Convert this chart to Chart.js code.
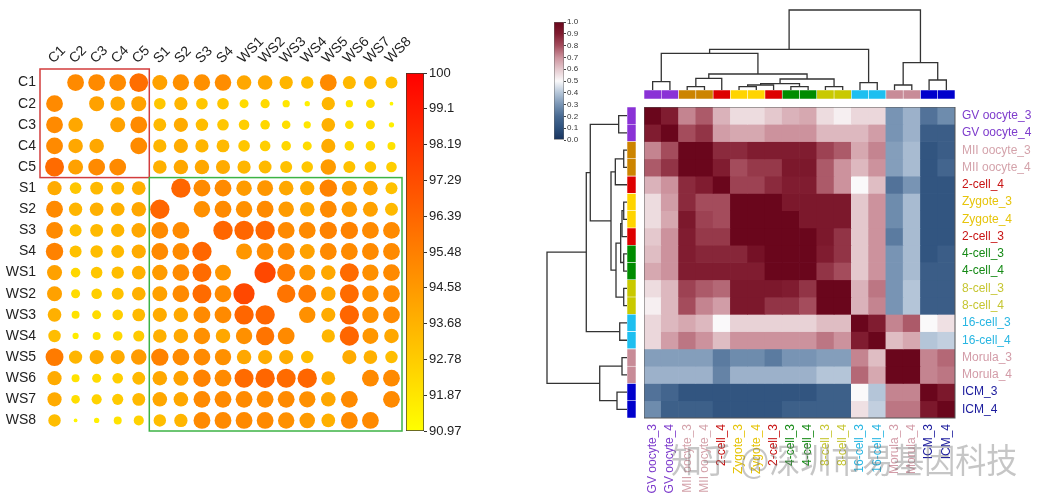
<!DOCTYPE html>
<html>
<head>
<meta charset="utf-8">
<script src="https://cdn.jsdelivr.net/npm/chart.js@4.4.1/dist/chart.umd.min.js"></script>
<style>
  html, body { margin: 0; padding: 0; background: #fff; }
  #wrap { position: relative; width: 1039px; height: 501px; overflow: hidden; background: #fff; }
  canvas { position: absolute; }
  #mark { position: absolute; left: 671px; top: 441px; font-family: "Noto Sans CJK SC", sans-serif;
          font-size: 31px; line-height: 31px; color: rgba(120,120,120,0.42); white-space: nowrap;
          transform: scaleY(1.1); transform-origin: left top; }
</style>
</head>
<body>
<div id="wrap">
  <canvas id="bubble" width="470" height="501" style="left:0;top:0"></canvas>
  <canvas id="bubbleBar" width="62" height="378" style="left:406px;top:63px"></canvas>
  <canvas id="heatBar" width="36" height="130" style="left:554px;top:16px"></canvas>
  <canvas id="topTree" width="311" height="82" style="left:644px;top:8px"></canvas>
  <canvas id="leftTree" width="82" height="311" style="left:545px;top:107px"></canvas>
  <canvas id="topStrip" width="311" height="9" style="left:644px;top:90px"></canvas>
  <canvas id="leftStrip" width="9" height="311" style="left:627px;top:107px"></canvas>
  <canvas id="heat" width="395" height="394" style="left:644px;top:107px"></canvas>
  <div id="mark">知乎 @深圳市易基因科技</div>
</div>
<script>
Chart.defaults.font.family = '"Liberation Sans", Arial, sans-serif';
Chart.defaults.animation = false;

// ---- left panel: correlation bubbles ----
const samples = ['C1','C2','C3','C4','C5','S1','S2','S3','S4','WS1','WS2','WS3','WS4','WS5','WS6','WS7','WS8'];
const corr = [
  [null,95.1,95.1,95.1,96.1,94.3,94.9,94.9,95.0,94.1,94.1,93.6,93.3,95.1,93.5,93.45,93.15],
  [95.1,null,94.3,94.1,94.3,93.0,93.6,93.0,93.0,92.25,92.3,91.85,91.5,93.6,91.85,92.2,91.3],
  [95.1,94.1,null,94.3,95.1,93.45,93.95,93.3,93.0,92.7,92.4,92.15,91.85,93.75,92.15,92.25,91.5],
  [95.1,94.1,94.1,null,95.1,93.6,93.95,93.6,93.45,93.0,92.7,92.4,92.25,93.95,92.4,92.4,92.0],
  [96.2,94.3,95.1,95.1,null,93.75,94.1,94.1,93.95,93.6,93.45,93.15,93.0,94.5,93.15,93.0,92.7],
  [93.95,93.0,93.45,93.45,93.75,null,96.4,95.1,95.1,94.5,94.7,94.1,93.95,95.4,94.3,94.1,93.15],
  [95.1,93.6,93.75,93.75,94.1,96.4,null,94.9,95.1,94.9,95.1,94.5,94.1,95.1,94.5,94.3,93.45],
  [95.1,93.15,93.45,93.6,94.1,95.1,95.1,null,96.4,96.4,96.4,95.1,95.1,95.4,95.4,95.1,95.1],
  [95.4,93.15,93.3,93.45,93.95,95.1,95.1,96.4,null,94.7,95.1,95.1,94.3,95.1,95.1,95.1,95.1],
  [94.3,92.4,93.0,93.3,93.75,94.5,95.1,96.2,94.7,null,97.45,95.65,94.7,94.1,96.2,94.9,95.1],
  [94.3,92.25,92.7,93.15,93.75,94.3,95.1,96.2,95.1,97.45,null,95.9,95.65,94.1,96.2,94.9,95.1],
  [93.75,92.0,92.25,92.7,93.45,93.95,94.1,95.1,95.1,96.4,96.4,null,94.9,93.95,96.4,94.9,95.1],
  [93.3,91.65,92.0,92.4,92.85,93.75,94.1,94.9,94.1,94.9,95.9,95.1,null,93.6,96.4,94.7,94.1],
  [95.65,93.6,93.95,93.95,94.5,95.4,95.1,95.1,94.9,94.1,93.95,93.95,93.3,null,93.95,93.75,93.3],
  [93.95,92.0,92.25,92.7,93.45,94.1,94.3,95.4,95.1,96.2,96.4,96.2,96.4,93.75,null,95.1,95.1],
  [93.95,92.15,92.55,92.85,93.45,94.1,94.1,95.1,95.1,95.1,95.1,95.1,94.9,94.1,95.1,null,95.1],
  [93.3,91.3,91.5,92.0,92.55,93.3,93.6,95.1,95.1,95.1,95.1,94.9,94.5,93.75,95.1,95.1,null]
];
const corrMin = 90.97, corrMax = 100;
const corrTicks = [100, 99.1, 98.19, 97.29, 96.39, 95.48, 94.58, 93.68, 92.78, 91.87, 90.97];
const corrTickLabels = ['100','99.1','98.19','97.29','96.39','95.48','94.58','93.68','92.78','91.87','90.97'];
// sample blocks outlined in the matrix: first..last index
const blockFirst = [0, 5];
const blockLast = [4, 16];
const blockColors = ['#d23c3c', '#3db344'];

function yellowRed(v) {
  const g = Math.round(255 * (corrMax - v) / (corrMax - corrMin));
  return 'rgb(255,' + Math.max(0, Math.min(255, g)) + ',0)';
}
function bubbleRadius(v) {
  return Math.max(1.6, 4.2 * Math.sqrt(Math.max(0, v - 91.1)));
}

const bubblePoints = [];
corr.forEach((row, i) => row.forEach((v, j) => {
  if (v !== null) bubblePoints.push({ x: j, y: i, r: bubbleRadius(v), v: v });
}));

const blockBoxes = {
  id: 'blockBoxes',
  afterDatasetsDraw(chart) {
    const { ctx, scales: { x, y } } = chart;
    ctx.save();
    ctx.lineWidth = 1.5;
    blockFirst.forEach((f, k) => {
      const l = blockLast[k];
      // the first block frame sits a little outside its cells in the original
      const shift = k === 0 ? 4 : 0;
      const x0 = x.getPixelForValue(f - 0.5) - shift, x1 = x.getPixelForValue(l + 0.5);
      const y0 = y.getPixelForValue(f - 0.5) - (k === 0 ? 3 : 0), y1 = y.getPixelForValue(l + 0.5);
      ctx.strokeStyle = blockColors[k];
      ctx.strokeRect(x0, y0, x1 - x0, y1 - y0);
    });
    ctx.restore();
  }
};

new Chart(document.getElementById('bubble'), {
  type: 'bubble',
  data: { datasets: [{ data: bubblePoints, backgroundColor: c => yellowRed(c.raw.v), borderWidth: 0 }] },
  options: {
    responsive: false, events: [],
    layout: { padding: { top: 0, left: 0, right: 68, bottom: 70 } },
    plugins: { legend: { display: false }, tooltip: { enabled: false } },
    scales: {
      x: {
        type: 'linear', position: 'top', min: -0.5, max: 16.5,
        afterBuildTicks: s => { s.ticks = samples.map((_, i) => ({ value: i })); },
        afterFit: s => { s.height = 72; },
        grid: { display: false, drawTicks: false }, border: { display: false },
        ticks: { autoSkip: false, minRotation: 45, maxRotation: 45, padding: 5, labelOffset: 8,
                 font: { size: 14 }, color: '#222', callback: (v, i) => samples[i] }
      },
      y: {
        type: 'linear', reverse: true, min: -0.5, max: 16.5,
        afterBuildTicks: s => { s.ticks = samples.map((_, i) => ({ value: i })); },
        afterFit: s => { s.width = 44; },
        grid: { display: false, drawTicks: false }, border: { display: false },
        ticks: { autoSkip: false, padding: 8, font: { size: 14 }, color: '#222', callback: (v, i) => samples[i] }
      }
    }
  },
  plugins: [blockBoxes]
});

new Chart(document.getElementById('bubbleBar'), {
  type: 'bar',
  data: { labels: [''], datasets: [{
    data: [[corrMin, corrMax]],
    backgroundColor: c => {
      const a = c.chart.chartArea;
      if (!a) return yellowRed(corrMin);
      const g = c.chart.ctx.createLinearGradient(0, a.bottom, 0, a.top);
      g.addColorStop(0, yellowRed(corrMin));
      g.addColorStop(1, yellowRed(corrMax));
      return g;
    },
    borderColor: '#3a3a2a', borderWidth: 1, borderSkipped: false,
    barPercentage: 1, categoryPercentage: 1
  }] },
  options: {
    responsive: false, events: [],
    layout: { padding: { top: 10, bottom: 10, left: 0, right: 0 } },
    plugins: { legend: { display: false }, tooltip: { enabled: false } },
    scales: {
      x: { display: false },
      y: {
        position: 'right', min: corrMin, max: corrMax,
        afterBuildTicks: s => { s.ticks = corrTicks.map(v => ({ value: v })); },
        afterFit: s => { s.width = 44; s.paddingTop = 0; s.paddingBottom = 0; },
        grid: { drawOnChartArea: false, drawTicks: true, tickLength: 3, color: '#333' },
        border: { display: false },
        ticks: { autoSkip: false, padding: 2, font: { size: 13 }, color: '#222', callback: (v, i) => corrTickLabels[i] }
      }
    }
  }
});

// ---- right panel: clustered correlation heatmap ----
const stages = ['GV oocyte_3','GV oocyte_4','MII oocyte_3','MII oocyte_4','2-cell_4','Zygote_3','Zygote_4','2-cell_3',
                '4-cell_3','4-cell_4','8-cell_3','8-cell_4','16-cell_3','16-cell_4','Morula_3','Morula_4','ICM_3','ICM_4'];
const stageGroup = [0,0,1,1,2,3,3,2,4,4,5,5,6,6,7,7,8,8];
const groupStrip = ['#8a32d6','#cc8400','#dd0000','#ffd400','#008c00','#c9c900','#1ebff0','#c88c98','#0000cc'];
const groupText = ['#7e3ccc','#d4a3ab','#c81414','#e6c40a','#168a16','#c6c632','#28b6e2','#d39ca8','#1a1a9c'];
const heat = [
  [1.00,0.90,0.72,0.78,0.64,0.56,0.56,0.60,0.64,0.66,0.56,0.52,0.57,0.57,0.30,0.36,0.22,0.28],
  [0.90,1.00,0.80,0.85,0.68,0.66,0.66,0.70,0.70,0.70,0.63,0.63,0.63,0.68,0.30,0.36,0.15,0.15],
  [0.72,0.80,1.00,1.00,0.87,0.87,0.90,0.90,0.90,0.90,0.82,0.78,0.66,0.72,0.32,0.38,0.12,0.15],
  [0.78,0.85,1.00,1.00,0.90,0.80,0.84,0.84,0.92,0.92,0.78,0.70,0.63,0.70,0.32,0.38,0.12,0.18],
  [0.64,0.70,0.87,0.90,1.00,0.82,0.82,0.87,0.90,0.90,0.78,0.70,0.50,0.62,0.22,0.30,0.12,0.12],
  [0.56,0.68,0.87,0.80,0.80,1.00,1.00,1.00,0.92,0.92,0.92,0.92,0.60,0.70,0.28,0.38,0.12,0.12],
  [0.56,0.66,0.92,0.82,0.80,1.00,1.00,1.00,1.00,0.92,0.92,0.92,0.60,0.70,0.28,0.38,0.12,0.12],
  [0.60,0.70,0.90,0.84,0.84,1.00,1.00,1.00,1.00,1.00,0.92,0.85,0.60,0.70,0.24,0.38,0.12,0.12],
  [0.62,0.70,0.90,0.88,0.88,0.88,0.95,1.00,1.00,1.00,0.90,0.85,0.60,0.70,0.30,0.38,0.12,0.15],
  [0.66,0.70,0.90,0.90,0.90,0.90,0.90,1.00,1.00,1.00,0.85,0.80,0.60,0.70,0.30,0.38,0.15,0.15],
  [0.56,0.63,0.82,0.78,0.76,0.92,0.92,0.92,0.90,0.85,1.00,1.00,0.64,0.74,0.30,0.40,0.15,0.15],
  [0.52,0.63,0.80,0.72,0.68,0.92,0.92,0.85,0.85,0.80,1.00,1.00,0.64,0.72,0.30,0.40,0.15,0.15],
  [0.57,0.63,0.66,0.63,0.50,0.58,0.58,0.58,0.58,0.58,0.62,0.62,1.00,0.90,0.72,0.78,0.50,0.55],
  [0.57,0.68,0.74,0.70,0.62,0.70,0.70,0.70,0.70,0.70,0.74,0.70,0.90,1.00,0.62,0.66,0.40,0.42],
  [0.32,0.32,0.32,0.32,0.24,0.28,0.28,0.24,0.30,0.30,0.32,0.32,0.72,0.62,1.00,1.00,0.72,0.76],
  [0.36,0.36,0.36,0.36,0.26,0.36,0.36,0.36,0.36,0.36,0.40,0.40,0.76,0.66,1.00,1.00,0.72,0.74],
  [0.22,0.18,0.12,0.12,0.12,0.12,0.12,0.12,0.12,0.12,0.16,0.16,0.50,0.40,0.72,0.72,1.00,0.92],
  [0.28,0.16,0.16,0.16,0.12,0.12,0.12,0.12,0.16,0.16,0.16,0.16,0.55,0.42,0.74,0.74,0.92,1.00]
];
const heatTicks = [1.0, 0.9, 0.8, 0.7, 0.6, 0.5, 0.4, 0.3, 0.2, 0.1, 0.0];
// colour ramp, blue -> white -> dark red
const rampAt = [0, 0.1, 0.2, 0.3, 0.4, 0.5, 0.6, 0.7, 0.8, 0.9, 1.0];
const rampRgb = [[24,50,92],[45,80,124],[72,106,146],[120,148,180],[180,197,216],[250,249,250],
                 [228,200,205],[204,146,157],[164,76,92],[128,28,48],[106,6,28]];
// dendrogram merges (same order on rows and columns): child a, child b, height (0..1)
const mergeA = [0, 2, 19, 5, 21, 8, 22, 10, 24, 20, 18, 12, 28, 14, 16, 31, 30];
const mergeB = [1, 3, 4, 6, 7, 9, 23, 11, 25, 26, 27, 13, 29, 15, 17, 32, 33];
const mergeH = [0.104, 0.041, 0.146, 0.041, 0.0625, 0.041, 0.079, 0.041, 0.1375, 0.2, 0.459, 0.091, 0.509, 0.0625, 0.125, 0.341, 1.0];

function ramp(v) {
  let k = 0;
  while (k < rampAt.length - 2 && v > rampAt[k + 1]) k++;
  const t = Math.max(0, Math.min(1, (v - rampAt[k]) / (rampAt[k + 1] - rampAt[k])));
  const a = rampRgb[k], b = rampRgb[k + 1];
  return 'rgb(' + a.map((c, i) => Math.round(c + (b[i] - c) * t)).join(',') + ')';
}

const noUi = { responsive: false, events: [], plugins: { legend: { display: false }, tooltip: { enabled: false } } };

const frame = {
  id: 'frame',
  afterDatasetsDraw(chart) {
    const { ctx, chartArea: a } = chart;
    ctx.save();
    ctx.strokeStyle = '#555';
    ctx.lineWidth = 1;
    ctx.strokeRect(a.left, a.top, a.right - a.left, a.bottom - a.top);
    ctx.restore();
  }
};

new Chart(document.getElementById('heat'), {
  type: 'bar',
  data: {
    labels: stages,
    datasets: heat.map((row, r) => ({
      data: stages.map(() => [r, r + 1]),
      backgroundColor: row.map(ramp),
      grouped: false, barPercentage: 1, categoryPercentage: 1, borderWidth: 0
    }))
  },
  options: Object.assign({}, noUi, {
    layout: { padding: 0 },
    scales: {
      x: {
        afterFit: s => { s.height = 83; s.paddingLeft = 0; s.paddingRight = 0; },
        grid: { display: false, drawTicks: false }, border: { display: false },
        ticks: { autoSkip: false, minRotation: 90, maxRotation: 90, padding: 6, font: { size: 12 },
                 color: c => groupText[stageGroup[c.index]] }
      },
      y: {
        position: 'right', reverse: true, min: 0, max: stages.length,
        afterBuildTicks: s => { s.ticks = stages.map((_, i) => ({ value: i + 0.5 })); },
        afterFit: s => { s.width = 84; s.paddingTop = 0; s.paddingBottom = 0; },
        grid: { display: false, drawTicks: false }, border: { display: false },
        ticks: { autoSkip: false, padding: 7, font: { size: 12 }, callback: (v, i) => stages[i],
                 color: c => groupText[stageGroup[c.index]] }
      }
    }
  }),
  plugins: [frame]
});

function stripDataset() {
  return [{
    data: stages.map(() => [0, 1]),
    backgroundColor: stageGroup.map(g => groupStrip[g]),
    borderColor: 'rgba(255,255,255,0.55)', borderWidth: 0.6, borderSkipped: false,
    barPercentage: 1, categoryPercentage: 1
  }];
}

new Chart(document.getElementById('topStrip'), {
  type: 'bar',
  data: { labels: stages, datasets: stripDataset() },
  options: Object.assign({}, noUi, { scales: { x: { display: false }, y: { display: false, min: 0, max: 1 } } })
});

new Chart(document.getElementById('leftStrip'), {
  type: 'bar',
  data: { labels: stages, datasets: stripDataset() },
  options: Object.assign({}, noUi, { indexAxis: 'y',
    scales: { y: { display: false }, x: { display: false, min: 0, max: 1 } } })
});

function treeSegments(flip) {
  const pos = stages.map((_, i) => i);
  const hgt = stages.map(() => 0);
  return mergeA.map((a, k) => {
    const b = mergeB[k], h = mergeH[k];
    const pts = [[pos[a], hgt[a]], [pos[a], h], [pos[b], h], [pos[b], hgt[b]]]
      .map(([p, q]) => flip ? { x: q, y: p } : { x: p, y: q });
    pos.push((pos[a] + pos[b]) / 2);
    hgt.push(h);
    return { data: pts, showLine: true, pointRadius: 0, borderColor: '#333', borderWidth: 1.3, clip: false };
  });
}

new Chart(document.getElementById('topTree'), {
  type: 'scatter',
  data: { datasets: treeSegments(false) },
  options: Object.assign({}, noUi, {
    layout: { padding: { top: 2 } },
    scales: { x: { display: false, min: -0.5, max: stages.length - 0.5 }, y: { display: false, min: 0, max: 1 } }
  })
});

new Chart(document.getElementById('leftTree'), {
  type: 'scatter',
  data: { datasets: treeSegments(true) },
  options: Object.assign({}, noUi, {
    layout: { padding: { left: 2 } },
    scales: {
      x: { display: false, min: 0, max: 1, reverse: true },
      y: { display: false, min: -0.5, max: stages.length - 0.5, reverse: true }
    }
  })
});

new Chart(document.getElementById('heatBar'), {
  type: 'bar',
  data: { labels: [''], datasets: [{
    data: [[0, 1]],
    backgroundColor: c => {
      const a = c.chart.chartArea;
      if (!a) return ramp(0.5);
      const g = c.chart.ctx.createLinearGradient(0, a.bottom, 0, a.top);
      rampAt.forEach((p, i) => g.addColorStop(p, ramp(p)));
      return g;
    },
    borderColor: '#666', borderWidth: 0.8, borderSkipped: false,
    barPercentage: 1, categoryPercentage: 1
  }] },
  options: Object.assign({}, noUi, {
    layout: { padding: { top: 6, bottom: 6 } },
    scales: {
      x: { display: false },
      y: {
        position: 'right', min: 0, max: 1,
        afterBuildTicks: s => { s.ticks = heatTicks.map(v => ({ value: v })); },
        afterFit: s => { s.width = 26; s.paddingTop = 0; s.paddingBottom = 0; },
        grid: { drawOnChartArea: false, drawTicks: true, tickLength: 2, color: '#444' },
        border: { display: false },
        ticks: { autoSkip: false, padding: 1, font: { size: 8 }, color: '#333', callback: v => v.toFixed(1) }
      }
    }
  })
});
</script>
</body>
</html>
